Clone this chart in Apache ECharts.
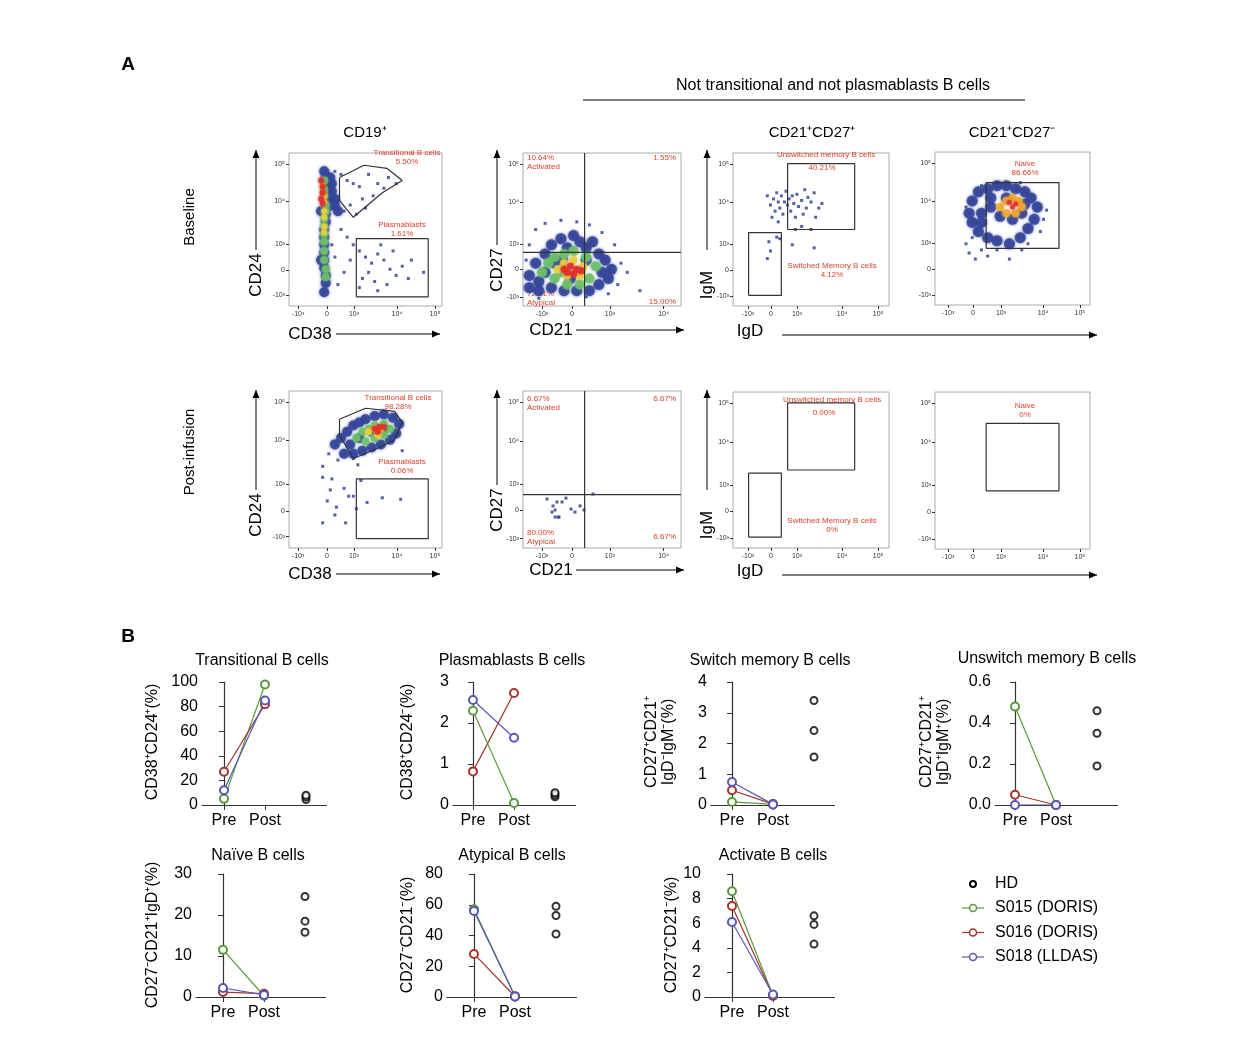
<!DOCTYPE html>
<html>
<head>
<meta charset="utf-8">
<script src="https://cdn.jsdelivr.net/npm/echarts@6/dist/echarts.min.js"></script>
<style>
  html, body { margin: 0; padding: 0; background: #fff; }
  #main { width: 1234px; height: 1042px; }
</style>
</head>
<body>
<div id="main"></div>
<script>
// ---------- 面板B数据 (Pre, Post) ----------
const patients = ['S015 (DORIS)', 'S016 (DORIS)', 'S018 (LLDAS)'];
const patientColors = ['#5b9a3c', '#a2352b', '#5858b8'];

const transS015 = [5, 98], transS016 = [27, 82], transS018 = [12, 85], transHD = [4.5, 6.5, 8];
const plasmaS015 = [2.3, 0.05], plasmaS016 = [0.82, 2.73], plasmaS018 = [2.56, 1.64], plasmaHD = [0.2, 0.25, 0.3];
const switchS015 = [0.1, 0.02], switchS016 = [0.48, 0.03], switchS018 = [0.75, 0.02], switchHD = [3.4, 2.42, 1.56];
const unswS015 = [0.48, 0], unswS016 = [0.05, 0], unswS018 = [0, 0], unswHD = [0.46, 0.35, 0.19];
const naiveS015 = [11.5, 0.3], naiveS016 = [1.2, 0.8], naiveS018 = [2.2, 0.5], naiveHD = [24.5, 18.5, 15.8];
const atypS015 = [57, 0.5], atypS016 = [28, 0.3], atypS018 = [56, 0.4], atypHD = [59, 53, 41];
const actS015 = [8.6, 0.1], actS016 = [7.4, 0.1], actS018 = [6.1, 0.2], actHD = [6.6, 5.9, 4.3];

// ---------- 面板A 流式数据 (坐标为显示单位 0-100) ----------
const tickLabels5 = ['-10³', '0', '10³', '10⁴', '10⁵'];
const tickLabels4 = ['-10³', '0', '10³', '10⁴'];
const cd38Ticks = [5.9, 24.8, 42.5, 70.6, 95.4];
const cd24Ticks = [7.2, 23.5, 40.5, 68.6, 92.8];
const cd21Ticks = [12, 31, 55, 89];
const cd27Ticks = [5.9, 24.2, 40.5, 68, 92.8];
const igdTicks = [9.6, 24.4, 41, 70, 93];
const igmTicks = [6.5, 23.5, 40.5, 68, 92.8];
const naiveXTicks = [8.4, 24.5, 42.6, 69.7, 93.5];

// 基线 CD38/CD24
const b1Blue = [[23,88],[24,84],[24,80],[25,76],[24,72],[26,68],[26,65],[24,60],[24,55],[23,50],[23,45],[23,40],[23,35],[23,30],[23,25],[24,20],[24,15],[23,9],[28,80],[28,75],[30,70],[30,66],[32,62],[27,84],[21,62],[21,30]];
const b1Green = [[23,82],[23,76],[23,72],[24,66],[24,62],[23,57],[23,52],[23,47],[23,42],[23,36],[23,30],[24,24],[24,19]];
const b1Yellow = [[22,78],[23,72],[23,68],[23,62],[23,58],[23,52],[23,48]];
const b1Red = [[21,82],[22,78],[22,74],[21,70],[22,67]];
const b1Dots = [[30,88],[34,86],[38,82],[42,80],[46,78],[52,86],[58,80],[62,77],[55,72],[48,70],[40,66],[36,62],[44,60],[50,64],[65,84],[70,80],[34,50],[38,45],[42,40],[46,36],[50,32],[54,28],[58,34],[62,30],[66,24],[70,20],[74,26],[78,18],[56,16],[48,18],[52,22],[60,40],[64,14],[80,30],[88,22],[46,12],[58,10],[68,36],[40,30],[36,22],[32,14],[30,32],[28,40]];
const transGate1 = [[33,84],[49,92],[64,90],[74,82],[61,74],[42,58],[33,69],[33,84]];
const plasmaGate = [[44,6],[91,6],[91,44],[44,44],[44,6]];

// 基线 CD21/CD27
const b2Blue = [[4,20],[8,28],[10,16],[14,34],[18,40],[20,28],[24,44],[28,38],[32,46],[36,42],[40,38],[44,42],[48,34],[52,30],[56,24],[54,18],[48,14],[42,10],[34,10],[26,10],[18,12],[10,10],[4,12],[25,30],[40,30],[30,18],[14,22],[50,22]];
const b2Green = [[12,22],[16,28],[20,32],[26,34],[32,36],[40,32],[46,26],[42,18],[36,14],[28,14],[20,18],[24,22]];
const b2Yellow = [[22,24],[26,28],[32,30],[38,26],[36,20],[28,20]];
const b2Red = [[26,24],[30,26],[34,24],[32,21],[28,22],[37,23]];
const b2Dots = [[8,50],[14,54],[24,56],[34,55],[42,53],[50,48],[58,40],[62,28],[66,22],[60,14],[54,8],[40,6],[10,5],[74,10],[2,30],[4,40]];

// 基线 IgD/IgM (CD21+CD27+)
const b3Dots = [[22,72],[24,66],[26,70],[27,62],[28,74],[29,68],[30,64],[31,72],[32,60],[33,68],[34,75],[35,66],[36,70],[37,62],[38,72],[39,67],[40,58],[41,73],[42,65],[44,69],[45,60],[46,76],[47,64],[48,71],[50,68],[52,74],[53,58],[55,64],[57,67],[25,58],[29,55],[44,52],[50,50],[40,50],[28,45],[30,44],[23,42],[24,36],[22,31],[38,40],[52,38]];
const unswGate = [[35,50],[78,50],[78,93],[35,93],[35,50]];
const swGate = [[10,7],[31,7],[31,48],[10,48],[10,7]];

// 基线 IgD/IgM (CD21+CD27-)
const b4Blue = [[24,68],[28,74],[34,76],[40,78],[46,78],[52,76],[58,74],[62,70],[66,64],[64,56],[60,50],[55,44],[48,40],[40,42],[34,44],[28,48],[24,54],[22,60],[30,60],[36,64],[42,58],[50,56],[56,60],[36,70],[46,70],[58,66],[30,54]];
const b4Orange = [[42,64],[46,68],[50,70],[54,68],[56,64],[52,60],[46,60]];
const b4Red = [[48,67],[52,66],[50,64]];
const b4Dots = [[20,40],[22,34],[26,30],[30,36],[34,32],[40,36],[56,36],[48,30],[60,40],[70,56],[68,48],[72,62],[30,78],[55,80],[20,64],[24,44]];
const naiveGate = [[33,37],[80,37],[80,80],[33,80],[33,37]];

// 输注后 CD38/CD24
const p1Blue = [[30,66],[34,70],[38,74],[42,78],[46,80],[50,82],[56,84],[62,85],[68,83],[72,79],[70,73],[66,69],[60,66],[54,64],[48,62],[42,60],[36,60],[46,70],[54,74],[62,76],[40,66]];
const p1Green = [[44,70],[48,74],[52,76],[56,78],[62,79],[66,76],[62,72],[56,70],[50,68]];
const p1Yellow = [[52,74],[56,76],[60,76],[58,72]];
const p1Red = [[56,76],[59,77],[62,77],[58,74]];
const p1Dots = [[22,52],[22,45],[27,37],[31,26],[30,21],[22,16],[37,16],[39,33],[42,33],[47,43],[45,53],[42,57],[36,38],[25,30],[28,44],[44,25],[51,29],[61,32],[73,31],[74,62],[26,60],[32,56]];
const transGate2 = [[33,82],[50,89],[69,87],[74,80],[69,69],[59,64],[42,57],[33,72],[33,82]];

// 输注后 CD21/CD27
const p2Dots = [[15.2,31.2],[19,26.8],[20.3,24.2],[18.4,22.9],[20.3,19.7],[22.2,19.7],[22.8,19.7],[21.5,29.3],[24.7,29.3],[27.2,31.8],[30.4,24.8],[32.9,22.9],[36.1,26.8],[38.6,24.2],[44.3,34.4]];

// ---------- 构建 ----------
const grids = [], xAxes = [], yAxes = [], series = [], graphics = [];
const FONT = 'Liberation Sans, Arial, sans-serif';
const RED = '#e0402a';

function addFlow(box, xTicks, xLabels, yTicks, yLabels) {
    const idx = grids.length;
    grids.push({ left: box[0], top: box[1], width: box[2] - box[0], height: box[3] - box[1],
        show: true, borderColor: '#aaa', borderWidth: 1 });
    xAxes.push({ gridIndex: idx, type: 'value', min: 0, max: 100, splitLine: { show: false },
        axisLine: { show: false },
        axisTick: { show: true, customValues: xTicks, length: 3, lineStyle: { color: '#333' } },
        axisLabel: { customValues: xTicks, fontSize: 7, color: '#333', fontFamily: FONT, margin: 5,
            formatter: v => xLabels[xTicks.indexOf(v)] } });
    yAxes.push({ gridIndex: idx, type: 'value', min: 0, max: 100, splitLine: { show: false },
        axisLine: { show: false },
        axisTick: { show: true, customValues: yTicks, length: 3, lineStyle: { color: '#333' } },
        axisLabel: { customValues: yTicks, fontSize: 7, color: '#333', fontFamily: FONT, margin: 4,
            formatter: v => yLabels[yTicks.indexOf(v)] } });
    return idx;
}
function cloud(idx, data, color, size) {
    series.push({ type: 'scatter', xAxisIndex: idx, yAxisIndex: idx, data: data, symbol: 'circle',
        symbolSize: size, itemStyle: { color: color, opacity: 0.85, shadowBlur: 3, shadowColor: color },
        silent: true, z: 2 });
}
function dots(idx, data) {
    series.push({ type: 'scatter', xAxisIndex: idx, yAxisIndex: idx, data: data, symbol: 'rect',
        symbolSize: 3, itemStyle: { color: '#2c3a8c' }, silent: true, z: 3 });
}
function gate(idx, data) {
    series.push({ type: 'line', xAxisIndex: idx, yAxisIndex: idx, data: data, symbol: 'none',
        lineStyle: { color: '#333', width: 1.2 }, silent: true, z: 4 });
}
function quad(idx, vx, hy) {
    gate(idx, [[vx, 0], [vx, 100]]);
    gate(idx, [[0, hy], [100, hy]]);
}
function txt(x, y, text, opt) {
    graphics.push({ type: 'text', x: x, y: y,
        style: Object.assign({ text: text, fill: '#000', font: '15px ' + FONT, align: 'center', verticalAlign: 'middle' }, opt || {}) });
}
function redTxt(x, y, text, align) {
    txt(x, y, text, { fill: RED, font: '8px ' + FONT, align: align || 'center', lineHeight: 9 });
}
function rtxt(x, y, text, size) {
    graphics.push({ type: 'text', x: x, y: y, rotation: Math.PI / 2,
        style: { text: text, fill: '#000', font: (size || 15) + 'px ' + FONT, align: 'center', verticalAlign: 'middle', lineHeight: 17 } });
}
function arrow(x1, y1, x2, y2) {
    graphics.push({ type: 'line', shape: { x1: x1, y1: y1, x2: x2, y2: y2 }, style: { stroke: '#000', lineWidth: 1 } });
    const a = Math.atan2(y2 - y1, x2 - x1), L = 8, W = 3.5;
    graphics.push({ type: 'polygon', shape: { points: [[x2, y2],
        [x2 - L * Math.cos(a) + W * Math.sin(a), y2 - L * Math.sin(a) - W * Math.cos(a)],
        [x2 - L * Math.cos(a) - W * Math.sin(a), y2 - L * Math.sin(a) + W * Math.cos(a)]] }, style: { fill: '#000' } });
}

// 面板A 基线
let g = addFlow([289, 153, 442, 306], cd38Ticks, tickLabels5, cd24Ticks, tickLabels5);
cloud(g, b1Blue, '#34449a', 10); cloud(g, b1Green, '#6cbf6a', 8); cloud(g, b1Yellow, '#e8d040', 6); cloud(g, b1Red, '#e0302a', 6);
dots(g, b1Dots); gate(g, transGate1); gate(g, plasmaGate);
g = addFlow([523, 153, 681, 306], cd21Ticks, tickLabels4, cd27Ticks, tickLabels5);
cloud(g, b2Blue, '#34449a', 11); cloud(g, b2Green, '#6cbf6a', 10); cloud(g, b2Yellow, '#e8d040', 8); cloud(g, b2Red, '#e0302a', 7);
dots(g, b2Dots); quad(g, 39, 35);
g = addFlow([733, 153, 889, 306], igdTicks, tickLabels5, igmTicks, tickLabels5);
dots(g, b3Dots); gate(g, unswGate); gate(g, swGate);
g = addFlow([935, 152, 1090, 305], naiveXTicks, tickLabels5, igmTicks, tickLabels5);
cloud(g, b4Blue, '#34449a', 11); cloud(g, b4Orange, '#f0a830', 8); cloud(g, b4Red, '#e0302a', 5);
dots(g, b4Dots); gate(g, naiveGate);

// 面板A 输注后
g = addFlow([289, 391, 442, 548], cd38Ticks, tickLabels5, cd24Ticks, tickLabels5);
cloud(g, p1Blue, '#34449a', 10); cloud(g, p1Green, '#6cbf6a', 8); cloud(g, p1Yellow, '#e8d040', 7); cloud(g, p1Red, '#e0302a', 6);
dots(g, p1Dots); gate(g, transGate2); gate(g, plasmaGate);
g = addFlow([523, 391, 681, 548], cd21Ticks, tickLabels4, cd27Ticks, tickLabels5);
dots(g, p2Dots); quad(g, 39, 34);
g = addFlow([733, 392, 889, 548], igdTicks, tickLabels5, igmTicks, tickLabels5);
gate(g, unswGate); gate(g, swGate);
g = addFlow([935, 392, 1090, 549], naiveXTicks, tickLabels5, igmTicks, tickLabels5);
gate(g, naiveGate);

// 面板A 文字
txt(128, 65, 'A', { font: 'bold 19px ' + FONT });
txt(833, 86, 'Not transitional and not plasmablasts B cells', { font: '16px ' + FONT });
graphics.push({ type: 'line', shape: { x1: 583, y1: 100, x2: 1025, y2: 100 }, style: { stroke: '#000', lineWidth: 1 } });
txt(365, 133, 'CD19⁺'); txt(812, 133, 'CD21⁺CD27⁺'); txt(1012, 133, 'CD21⁺CD27⁻');
rtxt(190, 217, 'Baseline'); rtxt(190, 452, 'Post-infusion');
[[0, 0], [1, 240]].forEach(([i, dy]) => {
    rtxt(256, 275 + dy, 'CD24', 17); arrow(256, 250 + dy, 256, 150 + dy);
    txt(310, 334 + dy, 'CD38', { font: '17px ' + FONT }); arrow(336, 334 + dy, 440, 334 + dy);
    rtxt(497, 270 + dy, 'CD27', 17); arrow(497, 245 + dy, 497, 150 + dy);
    txt(551, 330 + dy, 'CD21', { font: '17px ' + FONT }); arrow(576, 330 + dy, 684, 330 + dy);
    rtxt(707, 285 + dy, 'IgM', 17); arrow(707, 250 + dy, 707, 150 + dy);
    txt(750, 331 + dy, 'IgD', { font: '17px ' + FONT }); arrow(782, 335 + dy, 1097, 335 + dy);
});
redTxt(407, 157, 'Transitional B cells\n5.50%'); redTxt(402, 229, 'Plasmablasts\n1.61%');
redTxt(527, 162, '10.64%\nActivated', 'left'); redTxt(676, 158, '1.55%', 'right');
redTxt(527, 298, '72.81%\nAtypical', 'left'); redTxt(676, 302, '15.00%', 'right');
redTxt(826, 155, 'Unswitched memory B cells'); redTxt(822, 168, '40.21%');
redTxt(832, 270, 'Switched Memory B cells\n4.12%');
redTxt(1025, 168, 'Naive\n86.66%');
redTxt(398, 402, 'Transitional B cells\n98.28%'); redTxt(402, 466, 'Plasmablasts\n0.06%');
redTxt(527, 403, '6.67%\nActivated', 'left'); redTxt(676, 399, '6.67%', 'right');
redTxt(527, 537, '80.00%\nAtypical', 'left'); redTxt(676, 537, '6.67%', 'right');
redTxt(832, 400, 'Unswitched memory B cells'); redTxt(824, 413, '0.00%');
redTxt(832, 525, 'Switched Memory B cells\n0%');
redTxt(1025, 410, 'Naive\n0%');

// 面板B
function addPanel(left, top, preOffset, yMax, yInterval, yDigits, pts, hd, title, titleX, titleY) {
    const idx = grids.length;
    const step = 41;
    const minX = -preOffset / step;
    grids.push({ left: left, top: top, width: (2.5 - minX) * step, height: 123 });
    xAxes.push({ gridIndex: idx, type: 'value', min: minX, max: 2.5, splitLine: { show: false },
        axisLine: { onZero: false, lineStyle: { color: '#333', width: 1.2 } },
        axisTick: { customValues: [0, 1], length: 5, lineStyle: { color: '#333' } },
        axisLabel: { customValues: [0, 1], fontSize: 16, color: '#000', fontFamily: FONT, margin: 8,
            formatter: v => (v === 0 ? 'Pre' : 'Post') } });
    yAxes.push({ gridIndex: idx, type: 'value', min: 0, max: yMax, interval: yInterval, splitLine: { show: false },
        axisLine: { show: true, lineStyle: { color: '#333', width: 1.2 } },
        axisTick: { show: true, length: 5, lineStyle: { color: '#333' } },
        axisLabel: { fontSize: 16, color: '#000', fontFamily: FONT, margin: 4,
            formatter: v => v.toFixed(yDigits) } });
    pts.forEach((p, i) => {
        series.push({ type: 'line', name: patients[i], xAxisIndex: idx, yAxisIndex: idx,
            data: [[0, p[0]], [1, p[1]]], symbol: 'emptyCircle', symbolSize: 8,
            lineStyle: { color: patientColors[i], width: 1.2 },
            itemStyle: { color: patientColors[i], borderWidth: 1.5 }, z: 5 });
    });
    series.push({ type: 'scatter', name: 'HD', xAxisIndex: idx, yAxisIndex: idx,
        data: hd.map(v => [2, v]), symbol: 'emptyCircle', symbolSize: 7,
        itemStyle: { color: '#000', borderWidth: 2 }, z: 5 });
    txt(titleX, titleY, title, { font: '16px ' + FONT });
}
txt(128, 637, 'B', { font: 'bold 19px ' + FONT });
addPanel(202, 682, 22, 100, 20, 0, [transS015, transS016, transS018], transHD, 'Transitional B cells', 262, 661);
addPanel(453, 682, 20, 3, 1, 0, [plasmaS015, plasmaS016, plasmaS018], plasmaHD, 'Plasmablasts B cells', 512, 661);
addPanel(711, 682, 21, 4, 1, 0, [switchS015, switchS016, switchS018], switchHD, 'Switch memory B cells', 770, 661);
addPanel(995, 682, 20, 0.6, 0.2, 1, [unswS015, unswS016, unswS018], unswHD, 'Unswitch memory B cells', 1047, 659);
addPanel(196, 874, 27, 30, 10, 0, [naiveS015, naiveS016, naiveS018], naiveHD, 'Naïve B cells', 258, 856);
addPanel(447, 874, 27, 80, 20, 0, [atypS015, atypS016, atypS018], atypHD, 'Atypical B cells', 512, 856);
addPanel(705, 874, 27, 10, 2, 0, [actS015, actS016, actS018], actHD, 'Activate B cells', 773, 856);

rtxt(153, 742, 'CD38⁺CD24⁺(%)', 16);
rtxt(408, 742, 'CD38⁺CD24⁻(%)', 16);
rtxt(660, 742, 'CD27⁺CD21⁺\nIgD⁻IgM⁻(%)', 16);
rtxt(935, 742, 'CD27⁺CD21⁺\nIgD⁺IgM⁺(%)', 16);
rtxt(153, 935, 'CD27⁻CD21⁺IgD⁺(%)', 16);
rtxt(408, 935, 'CD27⁻CD21⁻(%)', 16);
rtxt(672, 935, 'CD27⁺CD21⁻(%)', 16);

// 图例
graphics.push({ type: 'circle', shape: { cx: 973, cy: 884, r: 3 }, style: { fill: '#fff', stroke: '#000', lineWidth: 2 } });
txt(995, 884, 'HD', { align: 'left', font: '16px ' + FONT });
patients.forEach((p, i) => {
    const y = 908 + i * 24.5;
    graphics.push({ type: 'line', shape: { x1: 962, y1: y, x2: 984, y2: y }, style: { stroke: patientColors[i], lineWidth: 1.2 } });
    graphics.push({ type: 'circle', shape: { cx: 973, cy: y, r: 3.5 }, style: { fill: '#fff', stroke: patientColors[i], lineWidth: 1.5 } });
    txt(995, y, p, { align: 'left', font: '16px ' + FONT });
});

const chart = echarts.init(document.getElementById('main'));
chart.setOption({
    animation: false,
    grid: grids, xAxis: xAxes, yAxis: yAxes, series: series,
    graphic: { elements: graphics }
});
</script>
</body>
</html>
